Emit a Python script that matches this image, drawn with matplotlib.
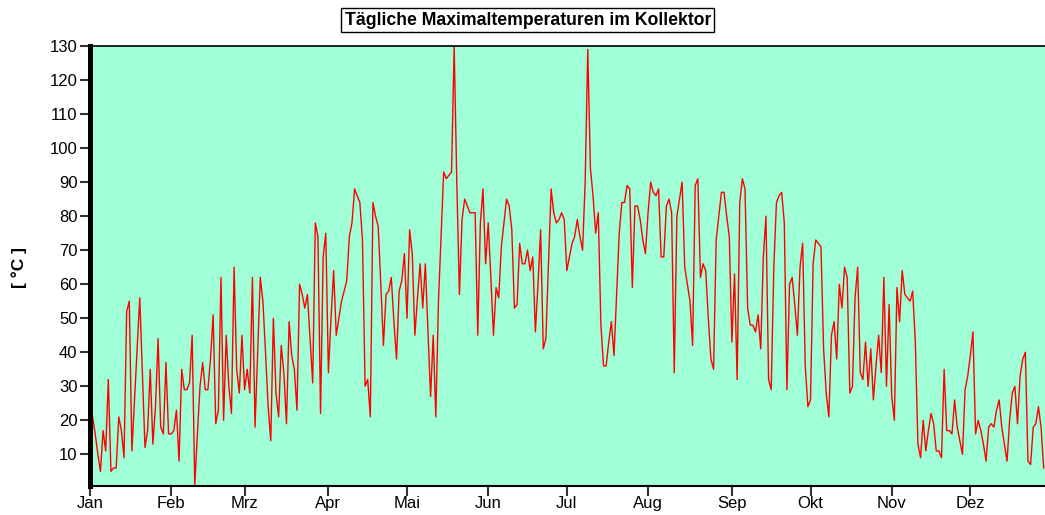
import matplotlib
matplotlib.use("Agg")
import matplotlib.pyplot as plt

plt.rcParams["font.family"] = ["Liberation Sans", "DejaVu Sans"]

# daily maximum collector temperature [°C]
jan = [18, 21, 16, 10, 5, 17, 11, 32, 5, 6, 6, 21, 17, 9, 52, 55, 11, 26, 41, 56,
       34, 12, 17, 35, 13, 24, 44, 18, 16, 37, 16]
feb = [16, 17, 23, 8, 35, 29, 29, 31, 45, 1, 16, 30, 37, 29, 29, 38, 51, 19, 23, 62,
       20, 45, 30, 22, 65, 35, 28, 45]
mrz = [29, 35, 28, 62, 18, 40, 62, 55, 40, 24, 14, 50, 28, 21, 42, 34, 19, 49, 39, 35,
       23, 60, 57, 53, 57, 44, 31, 78, 74, 22, 68]
apr = [75, 34, 50, 64, 45, 50, 55, 58, 61, 74, 78, 88, 86, 84, 73, 30, 32, 21, 84, 80,
       77, 60, 42, 57, 58, 62, 49, 38, 58, 61]
mai = [69, 50, 76, 69, 45, 56, 66, 53, 66, 46, 27, 45, 21, 55, 74, 93, 91, 92, 93, 130,
       90, 57, 79, 85, 83, 81, 81, 81, 45, 78, 88]
jun = [66, 78, 62, 45, 59, 56, 71, 78, 85, 83, 76, 53, 54, 72, 66, 66, 70, 64, 68, 46,
       60, 76, 41, 44, 66, 88, 81, 78, 79, 81]
jul = [79, 64, 68, 72, 74, 79, 74, 70, 90, 129, 94, 86, 75, 81, 48, 36, 36, 43, 49, 39,
       57, 75, 84, 84, 89, 88, 59, 83, 83, 79, 73]
aug = [69, 81, 90, 87, 86, 88, 68, 68, 83, 85, 81, 34, 80, 85, 90, 65, 60, 55, 42, 89,
       91, 62, 66, 64, 50, 38, 35, 73, 80, 87, 87]
sep = [80, 74, 43, 63, 32, 84, 91, 88, 53, 48, 48, 46, 51, 41, 68, 80, 32, 29, 65, 84,
       86, 87, 78, 29, 60, 62, 54, 45, 65, 72]
okt = [36, 24, 26, 66, 73, 72, 71, 41, 28, 21, 45, 49, 38, 60, 53, 65, 62, 28, 30, 56,
       65, 34, 32, 43, 30, 41, 26, 36, 45, 34, 62]
nov = [30, 54, 27, 20, 59, 49, 64, 57, 56, 55, 58, 43, 13, 9, 20, 11, 17, 22, 19, 11,
       11, 9, 35, 17, 17, 16, 26, 18, 14, 10]
dez = [29, 33, 39, 46, 16, 20, 17, 13, 8, 18, 19, 18, 23, 26, 18, 13, 8, 20, 28, 30,
       19, 33, 38, 40, 8, 7, 18, 19, 24, 18, 6]

temps = jan + feb + mrz + apr + mai + jun + jul + aug + sep + okt + nov + dez
days = list(range(len(temps)))

month_labels = ["Jan", "Feb", "Mrz", "Apr", "Mai", "Jun",
                "Jul", "Aug", "Sep", "Okt", "Nov", "Dez"]
month_ticks = [0, 31, 59, 91, 121, 152, 182, 213, 245, 275, 306, 336]
y_ticks = list(range(10, 131, 10))

fig = plt.figure(figsize=(10.45, 5.15), dpi=100)
ax = fig.add_axes([0.0861, 0.0563, 0.9139, 0.8544])
ax.set_facecolor("#a0ffd6")

ax.plot(days, temps, color="#ff0000", lw=1.0)

ax.set_xlim(0, 364.5)
ax.set_ylim(0.7, 130)
ax.set_yticks(y_ticks)
ax.set_xticks(month_ticks)
ax.set_xticklabels(month_labels)

ax.tick_params(axis="y", direction="out", length=7, width=1.5, color="#333333",
               labelsize=12, pad=2)
ax.tick_params(axis="x", direction="out", length=7, width=1.5, color="#333333",
               labelsize=12, pad=0)

ax.spines["left"].set_linewidth(3.6)
ax.spines["bottom"].set_linewidth(1.5)
ax.spines["top"].set_linewidth(1.2)
ax.spines["right"].set_visible(False)

fig.text(0.018, 0.48, "[ °C ]", rotation=90, fontsize=12.5, fontweight="bold",
         ha="center", va="center")

fig.text(0.505, 0.961, "Tägliche Maximaltemperaturen im Kollektor",
         fontsize=12.7, fontweight="bold", ha="center", va="center",
         bbox=dict(boxstyle="square,pad=0.2", facecolor="white",
                   edgecolor="black", linewidth=1.0))

fig.savefig("out.png", dpi=100)
